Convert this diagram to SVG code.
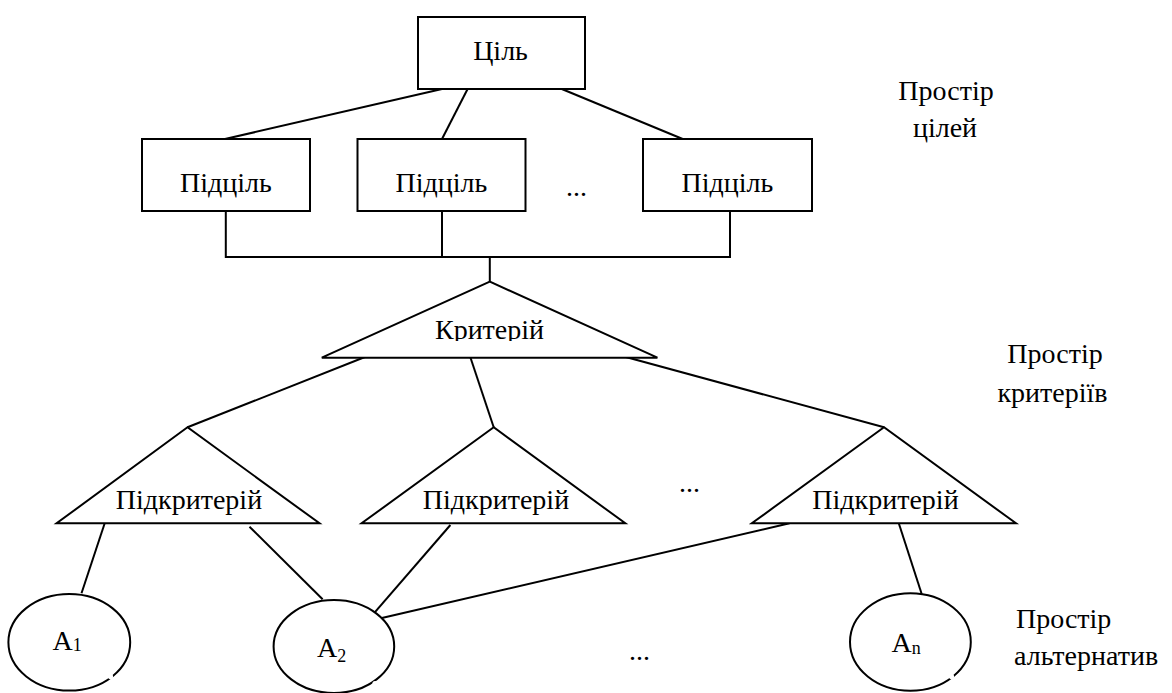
<svg xmlns="http://www.w3.org/2000/svg" width="1172" height="693" viewBox="0 0 1172 693">
<style>
.box{fill:#fff;stroke:#000;stroke-width:2}
.ln{fill:none;stroke:#000;stroke-width:2}
.gap{fill:#fff;stroke:none}
.t{font-family:"Liberation Serif","Times New Roman",serif;font-size:28px;fill:#000}
.m{text-anchor:middle}
.sub{font-size:18px}
</style>
<defs>
<clipPath id="critClip"><rect x="300" y="280" width="400" height="61"/></clipPath>
</defs>
<rect width="1172" height="693" fill="#fff"/>
<g id="connectors">
<line class="ln" x1="442" y1="89" x2="225" y2="139"/>
<line class="ln" x1="467.6" y1="89" x2="442" y2="139"/>
<line class="ln" x1="561.8" y1="89" x2="682.7" y2="139"/>
<polyline class="ln" points="225.8,209 225.8,257 730,257 730,211"/>
<line class="ln" x1="442" y1="211" x2="442" y2="257"/>
<line class="ln" x1="489.8" y1="257" x2="489.8" y2="282"/>
<line class="ln" x1="370" y1="355" x2="187.5" y2="427.3"/>
<line class="ln" x1="469.6" y1="355" x2="493.7" y2="427.3"/>
<line class="ln" x1="610.2" y1="352.7" x2="884" y2="427.3"/>
<line class="ln" x1="105.2" y1="521.7" x2="81.5" y2="593.3"/>
<line class="ln" x1="249.5" y1="526.7" x2="322.6" y2="599.3"/>
<line class="ln" x1="450.4" y1="525" x2="370.4" y2="617.3"/>
<line class="ln" x1="789.5" y1="523.3" x2="380.8" y2="618.3"/>
<line class="ln" x1="898.3" y1="521.7" x2="921.7" y2="594"/>
</g>
<g id="goal">
<rect class="box" x="418" y="17" width="167" height="72"/>
<text class="t m" x="500.5" y="60">Ціль</text>
</g>
<g id="subgoal1">
<rect class="box" x="142" y="139" width="168" height="72"/>
<text class="t m" x="226" y="192">Підціль</text>
</g>
<g id="subgoal2">
<rect class="box" x="357.5" y="139" width="168" height="72"/>
<text class="t m" x="441.5" y="192">Підціль</text>
</g>
<g id="subgoal3">
<rect class="box" x="643" y="139" width="169" height="72"/>
<text class="t m" x="727.5" y="192">Підціль</text>
</g>
<g id="dots-goals"><text class="t" x="566" y="196">...</text></g>
<g id="criterion">
<polygon class="box" points="489.8,281.7 321.8,357.7 657.4,357.7"/>
<text class="t m" x="489.5" y="339" clip-path="url(#critClip)">Критерій</text>
</g>
<g id="subcriterion1">
<polygon class="box" points="187.5,427.3 56.6,523.3 319.5,523.3"/>
<text class="t m" x="189" y="509">Підкритерій</text>
</g>
<g id="subcriterion2">
<polygon class="box" points="493.7,427.3 361.6,523.3 625.3,523.3"/>
<text class="t m" x="496" y="509">Підкритерій</text>
</g>
<g id="subcriterion3">
<polygon class="box" points="884,427.3 751.8,523.3 1016,523.3"/>
<text class="t m" x="885.5" y="509">Підкритерій</text>
</g>
<g id="dots-criteria"><text class="t" x="679" y="492">...</text></g>
<g id="alt1">
<ellipse class="box" cx="69.3" cy="642.3" rx="60.9" ry="48.3"/>
<circle class="gap" cx="110.5" cy="676.5" r="2.6"/>
<text class="t" x="52.4" y="650">A<tspan class="sub" dy="1">1</tspan></text>
</g>
<g id="alt2">
<ellipse class="box" cx="333.9" cy="646.5" rx="60.3" ry="46.5"/>
<circle class="gap" cx="375" cy="683.5" r="2.6"/>
<text class="t" x="316.9" y="656.7">A<tspan class="sub" dy="5">2</tspan></text>
</g>
<g id="altn">
<ellipse class="box" cx="910.4" cy="642" rx="60.4" ry="48.7"/>
<circle class="gap" cx="951.5" cy="676.5" r="2.6"/>
<text class="t" x="891.5" y="651.7">A<tspan class="sub" dy="2">n</tspan></text>
</g>
<g id="dots-alts"><text class="t" x="629" y="660">...</text></g>
<g id="labels">
<text class="t m" x="946" y="100">Простір</text>
<text class="t m" x="945" y="137">цілей</text>
<text class="t m" x="1055" y="363">Простір</text>
<text class="t m" x="1052.5" y="401.7">критеріїв</text>
<text class="t" x="1016" y="628.3">Простір</text>
<text class="t" x="1014" y="665">альтернатив</text>
</g>
</svg>
